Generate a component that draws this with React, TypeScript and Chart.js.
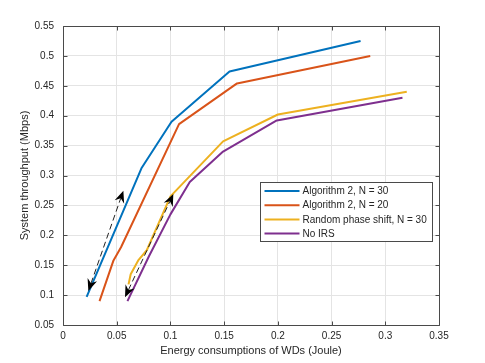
import React, { useEffect, useRef } from 'react';
import { Chart, registerables } from 'chart.js';

Chart.register(...registerables);

const seriesNames = ['Algorithm 2, N = 30', 'Algorithm 2, N = 20', 'Random phase shift, N = 30', 'No IRS'];
const seriesColors = ['#0072BD', '#D95319', '#EDB120', '#7E2F8E'];

const alg30X = [0.022, 0.073, 0.101, 0.155, 0.277];
const alg30Y = [0.097, 0.312, 0.39, 0.474, 0.525];
const alg20X = [0.034, 0.047, 0.054, 0.108, 0.162, 0.286];
const alg20Y = [0.09, 0.158, 0.18, 0.386, 0.454, 0.5];
const randX = [0.061, 0.063, 0.07, 0.078, 0.1, 0.149, 0.2, 0.32];
const randY = [0.118, 0.135, 0.158, 0.175, 0.265, 0.357, 0.402, 0.44];
const noIrsX = [0.06, 0.08, 0.1, 0.118, 0.149, 0.199, 0.316];
const noIrsY = [0.09, 0.165, 0.235, 0.289, 0.34, 0.392, 0.43];

const arrowFromX = [0.0236, 0.0577];
const arrowFromY = [0.107, 0.0963];
const arrowToX = [0.0562, 0.1027];
const arrowToY = [0.2746, 0.269];

const xTickValues = [0, 0.05, 0.1, 0.15, 0.2, 0.25, 0.3, 0.35];
const xTickLabels = ['0', '0.05', '0.1', '0.15', '0.2', '0.25', '0.3', '0.35'];
const yTickValues = [0.05, 0.1, 0.15, 0.2, 0.25, 0.3, 0.35, 0.4, 0.45, 0.5, 0.55];
const yTickLabels = ['0.05', '0.1', '0.15', '0.2', '0.25', '0.3', '0.35', '0.4', '0.45', '0.5', '0.55'];

const xTitle = 'Energy consumptions of WDs (Joule)';
const yTitle = 'System throughput (Mbps)';

const FONT = '"Liberation Sans", Arial, Helvetica, sans-serif';
const TEXT = '#262626';
const AXIS = '#4a4a4a';

const toPts = (xs: number[], ys: number[]) => xs.map((x, i) => ({ x, y: ys[i] }));

function drawHead(ctx: CanvasRenderingContext2D, tx: number, ty: number, fx: number, fy: number) {
  const ang = Math.atan2(ty - fy, tx - fx);
  const L = 12, W = 5, notch = 4;
  ctx.save();
  ctx.translate(tx, ty);
  ctx.rotate(ang);
  ctx.beginPath();
  ctx.moveTo(0, 0);
  ctx.lineTo(-L, -W);
  ctx.lineTo(-L + notch, 0);
  ctx.lineTo(-L, W);
  ctx.closePath();
  ctx.fill();
  ctx.restore();
}

const arrowPlugin = {
  id: 'arrows',
  afterDatasetsDraw(chart: any) {
    const { ctx, scales } = chart;
    const xs = scales.x, ys = scales.y;
    ctx.save();
    ctx.fillStyle = '#000';
    ctx.strokeStyle = '#222';
    ctx.lineWidth = 1;
    for (let i = 0; i < arrowFromX.length; i++) {
      const ax = xs.getPixelForValue(arrowFromX[i]);
      const ay = ys.getPixelForValue(arrowFromY[i]);
      const bx = xs.getPixelForValue(arrowToX[i]);
      const by = ys.getPixelForValue(arrowToY[i]);
      const len = Math.hypot(bx - ax, by - ay);
      const ux = (bx - ax) / len, uy = (by - ay) / len;
      ctx.setLineDash([6, 3.5]);
      ctx.beginPath();
      ctx.moveTo(ax + ux * 8, ay + uy * 8);
      ctx.lineTo(bx - ux * 8, by - uy * 8);
      ctx.stroke();
      ctx.setLineDash([]);
      drawHead(ctx, bx, by, ax, ay);
      drawHead(ctx, ax, ay, bx, by);
    }
    ctx.restore();
  },
};

const framePlugin = {
  id: 'frame',
  afterDraw(chart: any) {
    const { ctx, chartArea, scales } = chart;
    const a = (v: number) => Math.round(v) + 0.5;
    const L = a(chartArea.left), R = a(chartArea.right), T = a(chartArea.top), B = a(chartArea.bottom);
    ctx.save();
    ctx.strokeStyle = AXIS;
    ctx.lineWidth = 1;
    ctx.beginPath();
    ctx.rect(L, T, R - L, B - T);
    ctx.stroke();
    const tl = 4;
    ctx.beginPath();
    xTickValues.forEach((v) => {
      const p = a(scales.x.getPixelForValue(v));
      ctx.moveTo(p, B); ctx.lineTo(p, B - tl);
      ctx.moveTo(p, T); ctx.lineTo(p, T + tl);
    });
    yTickValues.forEach((v) => {
      const p = a(scales.y.getPixelForValue(v));
      ctx.moveTo(L, p); ctx.lineTo(L + tl, p);
      ctx.moveTo(R, p); ctx.lineTo(R - tl, p);
    });
    ctx.stroke();

    // legend
    ctx.font = `10px ${FONT}`;
    const maxW = Math.max(...seriesNames.map((n) => ctx.measureText(n).width));
    const boxW = Math.round(42 + maxW + 6);
    const rowH = 14.2;
    const boxH = 59;
    const bx = Math.round(chartArea.right - 7 - boxW) + 0.5;
    const by = Math.round(chartArea.top + 156) + 0.5;
    ctx.fillStyle = '#fff';
    ctx.fillRect(bx, by, boxW, boxH);
    ctx.strokeStyle = AXIS;
    ctx.lineWidth = 1;
    ctx.strokeRect(bx, by, boxW, boxH);
    ctx.textBaseline = 'middle';
    ctx.textAlign = 'left';
    seriesNames.forEach((n, i) => {
      const cy = by + 8.5 + i * rowH;
      ctx.strokeStyle = seriesColors[i];
      ctx.lineWidth = 2;
      ctx.beginPath();
      ctx.moveTo(bx + 4, cy);
      ctx.lineTo(bx + 39, cy);
      ctx.stroke();
      ctx.fillStyle = TEXT;
      ctx.fillText(n, bx + 42, cy + 0.5);
    });
    ctx.restore();
  },
};

export default function App() {
  const ref = useRef<HTMLCanvasElement | null>(null);
  useEffect(() => {
    if (!ref.current) return;
    const seriesX = [alg30X, alg20X, randX, noIrsX];
    const seriesY = [alg30Y, alg20Y, randY, noIrsY];
    const chart = new Chart(ref.current, {
      type: 'line',
      data: {
        datasets: seriesNames.map((name, i) => ({
          label: name,
          data: toPts(seriesX[i], seriesY[i]),
          borderColor: seriesColors[i],
          backgroundColor: seriesColors[i],
          borderWidth: 2,
          pointRadius: 0,
          tension: 0,
          fill: false,
          borderJoinStyle: 'round' as const,
        })),
      },
      options: {
        animation: false,
        responsive: false,
        devicePixelRatio: 1,
        events: [],
        layout: { padding: { left: 0, top: 26, right: 46, bottom: 0 } },
        plugins: { legend: { display: false }, tooltip: { enabled: false } },
        scales: {
          x: {
            type: 'linear',
            min: 0,
            max: 0.35,
            afterBuildTicks: (s: any) => { s.ticks = xTickValues.map((v) => ({ value: v })); },
            afterFit: (s: any) => { s.height = 38; },
            ticks: {
              callback: (v: any) => xTickLabels[xTickValues.findIndex((t) => Math.abs(t - v) < 1e-9)] ?? '',
              font: { family: FONT, size: 10 },
              color: TEXT,
              padding: 5,
              maxRotation: 0,
              autoSkip: false,
            },
            grid: { color: '#e4e4e4', drawTicks: false, lineWidth: 1 },
            border: { display: false },
            title: { display: true, text: xTitle, font: { family: FONT, size: 11 }, color: TEXT, padding: { top: 0, bottom: 5 } },
          },
          y: {
            type: 'linear',
            min: 0.05,
            max: 0.55,
            afterBuildTicks: (s: any) => { s.ticks = yTickValues.map((v) => ({ value: v })); },
            afterFit: (s: any) => { s.width = 63; },
            ticks: {
              callback: (v: any) => yTickLabels[yTickValues.findIndex((t) => Math.abs(t - v) < 1e-9)] ?? '',
              font: { family: FONT, size: 10 },
              color: TEXT,
              padding: 9,
              autoSkip: false,
            },
            grid: { color: '#e4e4e4', drawTicks: false, lineWidth: 1 },
            border: { display: false },
            title: { display: true, text: yTitle, font: { family: FONT, size: 11 }, color: TEXT, padding: { top: 18, bottom: 0 } },
          },
        },
      },
      plugins: [arrowPlugin, framePlugin],
    } as any);
    return () => chart.destroy();
  }, []);
  return (
    <div style={{ position: 'fixed', left: 0, top: 0, width: 485, height: 363, background: '#fff' }}>
      <canvas ref={ref} width={485} height={363} />
    </div>
  );
}
